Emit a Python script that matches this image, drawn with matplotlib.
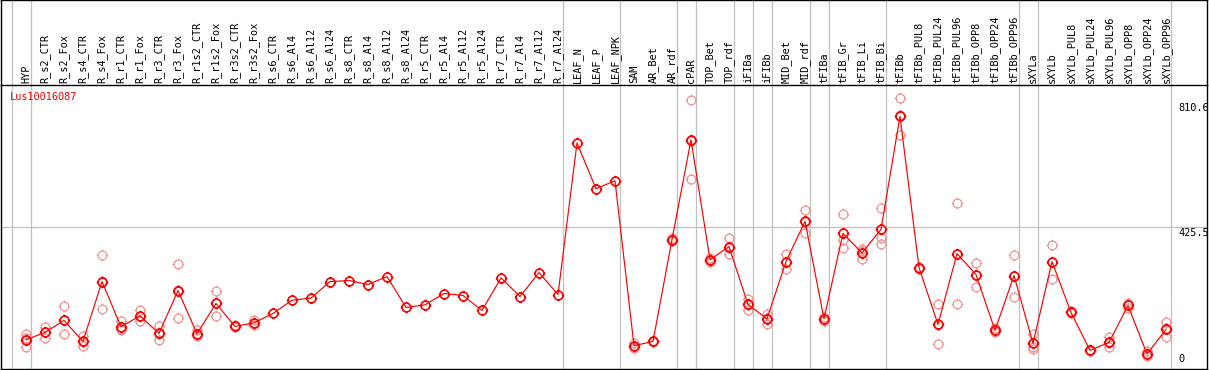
"""Expression profile for Lus10016087 across tissues / treatments."""
import matplotlib
matplotlib.use("Agg")
import matplotlib.pyplot as plt
from matplotlib.path import Path
from matplotlib import transforms

gene = "Lus10016087"

samples = [
    "HYP", "R_s2_CTR", "R_s2_Fox", "R_s4_CTR", "R_s4_Fox", "R_r1_CTR",
    "R_r1_Fox", "R_r3_CTR", "R_r3_Fox", "R_r1s2_CTR", "R_r1s2_Fox",
    "R_r3s2_CTR", "R_r3s2_Fox", "R_s6_CTR", "R_s6_Al4", "R_s6_Al12",
    "R_s6_Al24", "R_s8_CTR", "R_s8_Al4", "R_s8_Al12", "R_s8_Al24",
    "R_r5_CTR", "R_r5_Al4", "R_r5_Al12", "R_r5_Al24", "R_r7_CTR",
    "R_r7_Al4", "R_r7_Al12", "R_r7_Al24", "LEAF_N", "LEAF_P", "LEAF_NPK",
    "SAM", "AR_Bet", "AR_rdf", "cPAR", "TOP_Bet", "TOP_rdf", "iFIBa",
    "iFIBb", "MID_Bet", "MID_rdf", "tFIBa", "tFIB_Gr", "tFIB_Li", "tFIB_Bi",
    "tFIBb", "tFIBb_PUL8", "tFIBb_PUL24", "tFIBb_PUL96", "tFIBb_OPP8",
    "tFIBb_OPP24", "tFIBb_OPP96", "sXYLa", "sXYLb", "sXYLb_PUL8",
    "sXYLb_PUL24", "sXYLb_PUL96", "sXYLb_OPP8", "sXYLb_OPP24", "sXYLb_OPP96",
]

means = [
    85, 107, 143, 80, 260, 124, 157, 104, 233, 103, 194, 125, 136,
    164, 204, 210, 260, 263, 251, 275, 182, 190, 224, 218, 173, 271, 215,
    287, 221,
    677, 539, 563,
    67, 80, 386, 686, 325, 365, 191, 148, 320, 441, 148, 405, 346, 417, 757,
    302, 131, 344, 281, 113, 278,
    74, 320, 167, 53, 77, 188, 42, 116,
]

replicates = [
    [102, 62, 90], [124, 89, 108], [185, 101, 143], [95, 67, 78],
    [341, 176, 263], [140, 114, 118], [174, 140, 156], [126, 83, 103],
    [314, 149, 236], [113, 96, 99], [233, 155, 194], [128, 122, 125],
    [143, 128, 136],
    [], [], [], [], [], [], [], [], [], [], [], [], [], [], [], [],
    [], [], [],
    [60, 66, 75], [78, 82, 80], [390, 382, 386], [805, 569, 684],
    [330, 320, 324], [392, 342, 361], [208, 175, 190], [161, 133, 149],
    [343, 298, 319], [476, 407, 438], [142, 153, 148], [462, 386, 360],
    [358, 328, 351], [482, 392, 374], [810.6, 701, 760],
    [298, 305, 302], [191, 72, 130], [497, 191, 344], [317, 245, 281],
    [120, 111, 108], [341, 215, 278],
    [102, 58, 62], [371, 269, 320], [170, 164, 167], [55, 51, 53],
    [92, 64, 75], [195, 180, 189], [50, 35, 41], [137, 92, 119],
]

# index of the last sample in each group (gray separators drawn after it)
group_ends = [-1, 0, 28, 31, 34, 35, 37, 38, 39, 41, 42, 45, 52, 53, 60]

ytick_vals = [0, 425.5, 810.6]
ytick_labels = ["0", "425.5", "810.6"]

W, H = 1209, 370
fig = plt.figure(figsize=(W / 100, H / 100), dpi=100)
mono = "DejaVu Sans Mono"
fs = 7.4

# pixel geometry
left_px, right_px = 1, 1207
sep_px, bot_px = 85, 369
x0_px, step_px = 26, 19
xlim = ((left_px - x0_px) / step_px, (right_px - x0_px) / step_px)

ax_lab = fig.add_axes([left_px / W, (H - sep_px) / H,
                       (right_px - left_px) / W, sep_px / H])
ax = fig.add_axes([left_px / W, (H - bot_px) / H,
                   (right_px - left_px) / W, (bot_px - sep_px) / H])

for a in (ax, ax_lab):
    a.set_xlim(*xlim)
    a.set_xticks([])
    a.set_yticks([])
    for s in a.spines.values():
        s.set_color("black")
        s.set_linewidth(1.0)
ax_lab.set_ylim(0, 1)
ax_lab.spines["bottom"].set_visible(False)
ax.set_ylim(-3, 851)

sep_color = "#c0c0c0"
for g in group_ends:
    for a in (ax, ax_lab):
        a.axvline(g + 0.25, color=sep_color, lw=0.9, zorder=0)
ax.axhline(425.5, color=sep_color, lw=0.9, zorder=0)

# sample labels, rotated
lab_trans = transforms.blended_transform_factory(ax_lab.transData,
                                                 ax_lab.transAxes)
for i, name in enumerate(samples):
    ax_lab.text(i, 2 / sep_px, name, rotation=90, ha="center", va="bottom",
                family=mono, fontsize=fs, transform=lab_trans)

# circle marker with small outer spikes
circ = Path.unit_circle()
spikes = Path([(0, 1), (0, 1.3), (0, -1), (0, -1.3),
               (1, 0), (1.3, 0), (-1, 0), (-1.3, 0)],
              [Path.MOVETO, Path.LINETO] * 4)
marker = Path.make_compound_path(circ, spikes)

xs = list(range(len(samples)))
rx, ry = [], []
for i, reps in enumerate(replicates):
    rx += [i] * len(reps)
    ry += reps
ax.plot(rx, ry, ls="none", marker=marker, ms=8.2, mfc="none",
        mec="#ee9494", mew=0.9, zorder=2)
ax.plot(xs, means, color="red", lw=0.85, zorder=3)
ax.plot(xs, means, ls="none", marker=marker, ms=8.2, mfc="none",
        mec="red", mew=1.2, zorder=4)

ax.text(9 / (right_px - left_px), 1 - 12 / (bot_px - sep_px), gene,
        color="red", family=mono, fontsize=fs, va="center", ha="left",
        transform=ax.transAxes)

# right-side value labels
tick_x = (1178 - left_px) / (right_px - left_px)
ytr = transforms.blended_transform_factory(ax.transAxes, ax.transData)
for v, lab in zip(ytick_vals, ytick_labels):
    if v == 0:
        off = transforms.ScaledTranslation(0, 4 / 100, fig.dpi_scale_trans)
        ax.text(tick_x, v, lab, family=mono, fontsize=fs, ha="left",
                va="bottom", transform=ytr + off)
    else:
        dy = -4.5 if v > 500 else -1.5
        off = transforms.ScaledTranslation(0, dy / 100, fig.dpi_scale_trans)
        ax.text(tick_x, v, lab, family=mono, fontsize=fs, ha="left",
                va="top", transform=ytr + off)

fig.savefig("out.png", dpi=100)
